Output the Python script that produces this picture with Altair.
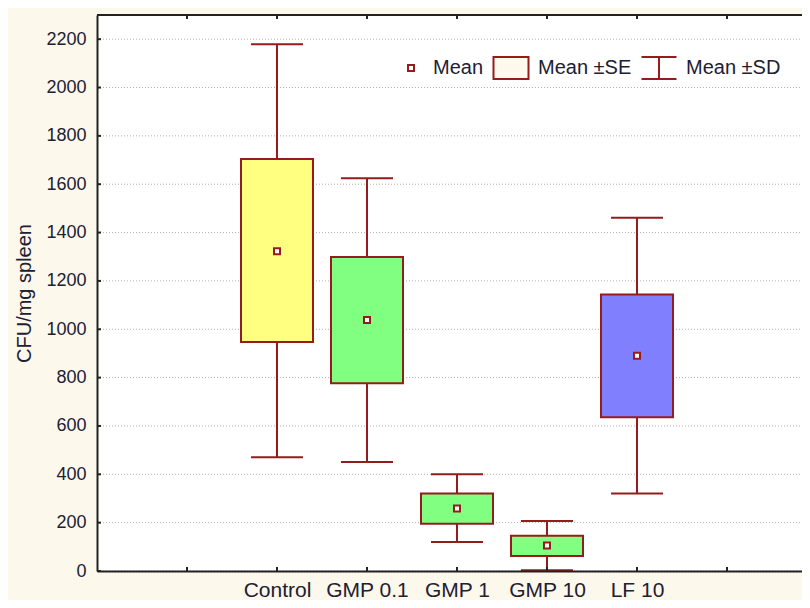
import altair as alt
import pandas as pd

# ---- data ----
categories = ["Control", "GMP 0.1", "GMP 1", "GMP 10", "LF 10"]
means = [1323, 1038, 259, 105, 890]
se_hi = [1704, 1299, 321, 146, 1144]
se_lo = [947, 777, 195, 62, 636]
sd_hi = [2179, 1625, 400, 207, 1461]
sd_lo = [471, 451, 120, 3, 321]
box_colors = ["#FFFF80", "#80FF80", "#80FF80", "#80FF80", "#8080FF"]
y_tick_values = [0, 200, 400, 600, 800, 1000, 1200, 1400, 1600, 1800, 2000, 2200]
x_tick_values = [1, 2, 3, 4, 5, 6, 7]
legend_items = ["Mean", "Mean \u00b1SE", "Mean \u00b1SD"]

# ---- styles ----
DARK = "#951C1C"
INK = "#202033"
AXIS = "#222222"
CREAM = "#FDF8EC"
LEGEND_BOX = "#FFF8EC"
FONT = "Liberation Sans"
W, H = 705, 556
STEP = 90.0

df = pd.DataFrame({
    "cat": categories, "mean": means, "se_hi": se_hi, "se_lo": se_lo,
    "sd_hi": sd_hi, "sd_lo": sd_lo,
})

xscale = alt.Scale(domain=[0, W / STEP], nice=False, zero=False, padding=0)
yscale = alt.Scale(domain=[0, 2300], nice=False, zero=True, padding=0)

parts = []
for i, c in enumerate(categories):
    parts.append(f"datum.value == {i + 2} ? '{c}' : ")
label_expr = "".join(parts) + "''"

base = (alt.Chart(df)
        .transform_window(slot="row_number()")
        .transform_calculate(pos="datum.slot + 1"))

x_axis = alt.Axis(values=[2, 3, 4, 5, 6], labelExpr=label_expr, ticks=False, grid=False,
                  domainColor=AXIS, domainWidth=2, labelFontSize=21, labelFlush=False,
                  labelColor=INK, labelPadding=8, title=None, zindex=1)
y_axis = alt.Axis(values=y_tick_values, format="d", ticks=False, grid=False,
                  domainColor=AXIS, labelFlush=False,
                  domainWidth=2, labelFontSize=18, labelColor=INK, labelPadding=11,
                  title="CFU/mg spleen", titleFontSize=20, titleFontWeight="normal",
                  titleColor=INK, titlePadding=11, zindex=1)

ytick_df = pd.DataFrame({"v": y_tick_values})
xtick_df = pd.DataFrame({"t": x_tick_values})

# white plot background and dotted horizontal grid
plot_bg = alt.Chart(pd.DataFrame({"a": [0]})).mark_rect(fill="white").encode(
    x=alt.value(0), x2=alt.value(W), y=alt.value(0), y2=alt.value(H))
grid = alt.Chart(ytick_df).mark_rule(color="#AFAFAF", strokeWidth=1, strokeDash=[1, 2]).encode(
    y=alt.Y("v:Q"), x=alt.value(0), x2=alt.value(W))

whiskers = base.mark_rule(color=DARK, strokeWidth=2).encode(
    x=alt.X("pos:Q", scale=xscale, axis=x_axis),
    y=alt.Y("sd_lo:Q", scale=yscale, axis=y_axis),
    y2="sd_hi:Q",
)

boxes = base.mark_bar(size=72, stroke=DARK, strokeWidth=2, opacity=1).encode(
    x=alt.X("pos:Q"),
    y=alt.Y("se_lo:Q"),
    y2="se_hi:Q",
    fill=alt.Fill("cat:N", scale=alt.Scale(domain=categories, range=box_colors), legend=None),
)

cap_hi = base.mark_tick(orient="horizontal", size=52, thickness=2, color=DARK, opacity=1).encode(
    x=alt.X("pos:Q"),
    y=alt.Y("sd_hi:Q"),
)
cap_lo = base.mark_tick(orient="horizontal", size=52, thickness=2, color=DARK, opacity=1).encode(
    x=alt.X("pos:Q"),
    y=alt.Y("sd_lo:Q"),
)

mean_pts = base.mark_square(size=36, fill="white", stroke=DARK, strokeWidth=2, opacity=1).encode(
    x=alt.X("pos:Q"),
    y=alt.Y("mean:Q"),
)

# inward tick marks and top frame line
ytk = alt.Chart(ytick_df).mark_rule(color=AXIS, strokeWidth=2).encode(
    y=alt.Y("v:Q"), x=alt.value(0), x2=alt.value(4))
xtk_bottom = alt.Chart(xtick_df).mark_rule(color=AXIS, strokeWidth=2).encode(
    x=alt.X("t:Q"), y=alt.value(H), y2=alt.value(H - 4))
xtk_top = alt.Chart(xtick_df).mark_rule(color=AXIS, strokeWidth=2).encode(
    x=alt.X("t:Q"), y=alt.value(0), y2=alt.value(4))
top_line = alt.Chart(pd.DataFrame({"a": [0]})).mark_rule(color=AXIS, strokeWidth=2).encode(
    x=alt.value(0), x2=alt.value(W), y=alt.value(0))

# legend (built by the library from shape/fill/stroke scales)
p_mean = "M-1,-0.55M1,0.55M0.1,-0.15H0.4V0.15H0.1Z"
p_se = "M-0.875,-0.55H0.875V0.55H-0.875Z"
p_sd = "M-0.875,-0.55H0.875M0,-0.55V0.55M-0.875,0.55H0.875"
leg = alt.Legend(orient="none", legendX=288, legendY=32, direction="horizontal", columns=3,
                 title=None, symbolSize=1600, symbolStrokeWidth=2,
                 symbolOpacity=1, labelFontSize=20, labelColor=INK,
                 labelOffset=6, columnPadding=5, padding=0)
legend_layer = (alt.Chart(pd.DataFrame({"item": legend_items}))
                .transform_filter("false")
                .mark_point(strokeWidth=2, opacity=1)
                .encode(
                    shape=alt.Shape("item:N", scale=alt.Scale(domain=legend_items, range=[p_mean, p_se, p_sd]), legend=leg),
                    fill=alt.Fill("item:N", scale=alt.Scale(domain=legend_items, range=["white", LEGEND_BOX, "transparent"]), legend=leg),
                    stroke=alt.Stroke("item:N", scale=alt.Scale(domain=legend_items, range=[DARK, DARK, DARK]), legend=leg),
                ))

chart = (alt.layer(plot_bg, grid, whiskers, boxes, cap_hi, cap_lo, mean_pts,
                   ytk, xtk_bottom, xtk_top, top_line, legend_layer)
         .resolve_scale(fill="independent", shape="independent", stroke="independent")
         .properties(width=W, height=H, background=CREAM,
                     autosize=alt.AutoSizeParams(type="none"),
                     padding={"left": 89, "top": 7, "right": 0, "bottom": 29})
         .configure(font=FONT)
         .configure_view(stroke=None))

chart.save("out.html", embed_options={"renderer": "svg", "actions": False})
